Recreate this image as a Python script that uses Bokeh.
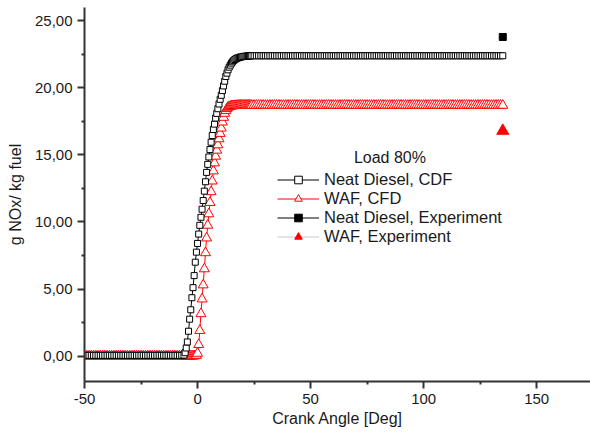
import numpy as np
from bokeh.plotting import figure
from bokeh.models import Range1d, FixedTicker, Legend, LegendItem, Label
from bokeh.embed import file_html
from bokeh.resources import INLINE

# ---------------- data ----------------
# crank-angle sampling of the CFD curves (coarse on the flat parts, fine in the rise)
angle_cfd = np.concatenate([np.arange(-50, -6, 1.0),
                            np.arange(-6, 24.5, 0.5),
                            np.arange(25, 136, 1.0)])

diesel_cfd = (
    # -50 .. -7
    [0.05, 0.05, 0.05, 0.05, 0.05, 0.05, 0.05, 0.05, 0.05, 0.05, 0.05,
     0.05, 0.05, 0.05, 0.05, 0.05, 0.05, 0.05, 0.05, 0.05, 0.05, 0.05,
     0.05, 0.05, 0.05, 0.05, 0.05, 0.05, 0.05, 0.05, 0.05, 0.05, 0.05,
     0.05, 0.05, 0.05, 0.05, 0.05, 0.05, 0.05, 0.05, 0.05, 0.05, 0.05]
    # -6 .. 24 (step 0.5)
    + [0.07, 0.25, 0.6, 1.05, 1.85, 2.75, 3.45, 4.35, 5.1, 6.0,
       7.0, 7.75, 8.4, 9.1, 9.75, 10.35, 10.95, 11.6, 12.3, 13.0,
       13.7, 14.3, 14.85, 15.4, 15.95, 16.45, 16.9, 17.3, 17.75, 18.1,
       18.45, 18.8, 19.15, 19.45, 19.8, 20.15, 20.5, 20.85, 21.1, 21.35,
       21.55, 21.7, 21.85, 21.95, 22.05, 22.12, 22.18, 22.22, 22.25, 22.28,
       22.3, 22.32, 22.34, 22.35, 22.36, 22.37, 22.38, 22.38, 22.39, 22.39,
       22.4]
    # 25 .. 135
    + [22.4, 22.4, 22.4, 22.4, 22.4, 22.4, 22.4, 22.4, 22.4, 22.4, 22.4,
       22.4, 22.4, 22.4, 22.4, 22.4, 22.4, 22.4, 22.4, 22.4, 22.4, 22.4,
       22.4, 22.4, 22.4, 22.4, 22.4, 22.4, 22.4, 22.4, 22.4, 22.4, 22.4,
       22.4, 22.4, 22.4, 22.4, 22.4, 22.4, 22.4, 22.4, 22.4, 22.4, 22.4,
       22.4, 22.4, 22.4, 22.4, 22.4, 22.4, 22.4, 22.4, 22.4, 22.4, 22.4,
       22.4, 22.4, 22.4, 22.4, 22.4, 22.4, 22.4, 22.4, 22.4, 22.4, 22.4,
       22.4, 22.4, 22.4, 22.4, 22.4, 22.4, 22.4, 22.4, 22.4, 22.4, 22.4,
       22.4, 22.4, 22.4, 22.4, 22.4, 22.4, 22.4, 22.4, 22.4, 22.4, 22.4,
       22.4, 22.4, 22.4, 22.4, 22.4, 22.4, 22.4, 22.4, 22.4, 22.4, 22.4,
       22.4, 22.4, 22.4, 22.4, 22.4, 22.4, 22.4, 22.4, 22.4, 22.4, 22.4,
       22.4]
)

waf_cfd = (
    # -50 .. -7
    [0.0, 0.0, 0.0, 0.0, 0.0, 0.0, 0.0, 0.0, 0.0, 0.0, 0.0,
     0.0, 0.0, 0.0, 0.0, 0.0, 0.0, 0.0, 0.0, 0.0, 0.0, 0.0,
     0.0, 0.0, 0.0, 0.0, 0.0, 0.0, 0.0, 0.0, 0.0, 0.0, 0.0,
     0.0, 0.0, 0.0, 0.0, 0.0, 0.0, 0.0, 0.0, 0.0, 0.0, 0.0]
    # -6 .. 24 (step 0.5)
    + [0.0, 0.0, 0.0, 0.0, 0.0, 0.0, 0.0, 0.0, 0.0, 0.01, 0.02, 0.05,
       0.2, 0.85, 1.9, 3.15, 4.25, 5.3, 6.5, 7.7, 8.8, 9.75,
       10.6, 11.45, 12.25, 13.05, 13.8, 14.4, 14.9, 15.35, 15.75, 16.2,
       16.6, 17.0, 17.45, 17.8, 18.1, 18.3, 18.45, 18.55, 18.6, 18.63,
       18.65, 18.66, 18.67, 18.68, 18.68, 18.69, 18.69, 18.7, 18.7, 18.7,
       18.7, 18.7, 18.7, 18.7, 18.7, 18.7, 18.7, 18.7, 18.7]
    # 25 .. 135
    + [18.7, 18.7, 18.7, 18.7, 18.7, 18.7, 18.7, 18.7, 18.7, 18.7, 18.7,
       18.7, 18.7, 18.7, 18.7, 18.7, 18.7, 18.7, 18.7, 18.7, 18.7, 18.7,
       18.7, 18.7, 18.7, 18.7, 18.7, 18.7, 18.7, 18.7, 18.7, 18.7, 18.7,
       18.7, 18.7, 18.7, 18.7, 18.7, 18.7, 18.7, 18.7, 18.7, 18.7, 18.7,
       18.7, 18.7, 18.7, 18.7, 18.7, 18.7, 18.7, 18.7, 18.7, 18.7, 18.7,
       18.7, 18.7, 18.7, 18.7, 18.7, 18.7, 18.7, 18.7, 18.7, 18.7, 18.7,
       18.7, 18.7, 18.7, 18.7, 18.7, 18.7, 18.7, 18.7, 18.7, 18.7, 18.7,
       18.7, 18.7, 18.7, 18.7, 18.7, 18.7, 18.7, 18.7, 18.7, 18.7, 18.7,
       18.7, 18.7, 18.7, 18.7, 18.7, 18.7, 18.7, 18.7, 18.7, 18.7, 18.7,
       18.7, 18.7, 18.7, 18.7, 18.7, 18.7, 18.7, 18.7, 18.7, 18.7, 18.7,
       18.7]
)

angle_exp = [135]
diesel_exp = [23.8]
waf_exp = [16.8]

x_ticks = [-50, 0, 50, 100, 150]
x_tick_labels = ["-50", "0", "50", "100", "150"]
x_minor = [-25, 25, 75, 125]
y_ticks = [0, 5, 10, 15, 20, 25]
y_minor = [2.5, 7.5, 12.5, 17.5, 22.5]
y_tick_labels = ["0,00", "5,00", "10,00", "15,00", "20,00", "25,00"]

labels = ["Neat Diesel, CDF", "WAF, CFD", "Neat Diesel, Experiment", "WAF, Experiment"]
legend_title = "Load 80%"
x_title = "Crank Angle [Deg]"
y_title = "g NOx/ kg fuel"

# ---------------- figure ----------------
FONT = "Liberation Sans"
p = figure(width=590, height=432, output_backend="svg", toolbar_location=None,
           x_range=Range1d(-50, 173.8), y_range=Range1d(-1.9, 26.0),
           min_border_left=84, min_border_right=0, min_border_top=7,
           min_border_bottom=51)
p.outline_line_color = None
p.xgrid.visible = False
p.ygrid.visible = False
p.background_fill_color = "white"

waf_line = p.line(angle_cfd, waf_cfd, line_color="#ff0000", line_width=1)
waf_pts = p.scatter(angle_cfd, waf_cfd, marker="triangle", size=10,
                    line_color="#ff0000", fill_color="white", line_width=1)
dsl_line = p.line(angle_cfd, diesel_cfd, line_color="black", line_width=1)
dsl_pts = p.scatter(angle_cfd, diesel_cfd, marker="square", size=6,
                    line_color="black", fill_color="white", line_width=1)

dexp_line = p.line(angle_exp, diesel_exp, line_color="black", line_width=1)
dexp_pts = p.scatter(angle_exp, diesel_exp, marker="square", size=7,
                     line_color="black", fill_color="black")
wexp_line = p.line(angle_exp, waf_exp, line_color="#c8c8c8", line_width=1)
wexp_pts = p.scatter(angle_exp, waf_exp, marker="triangle", size=12,
                     line_color="#ff0000", fill_color="#ff0000")

# axes
p.xaxis.ticker = FixedTicker(ticks=x_ticks, minor_ticks=x_minor)
p.yaxis.ticker = FixedTicker(ticks=y_ticks, minor_ticks=y_minor)
p.xaxis.major_label_overrides = {t: s for t, s in zip(x_ticks, x_tick_labels)}
p.yaxis.major_label_overrides = {t: s for t, s in zip(y_ticks, y_tick_labels)}
p.xaxis.axis_label = x_title
p.yaxis.axis_label = y_title
for ax in (p.xaxis[0], p.yaxis[0]):
    ax.axis_line_width = 2
    ax.axis_line_color = "#333333"
    ax.major_tick_line_width = 2
    ax.major_tick_line_color = "#333333"
    ax.major_tick_out = 7
    ax.major_tick_in = 0
    ax.minor_tick_line_width = 2
    ax.minor_tick_line_color = "#333333"
    ax.minor_tick_out = 3
    ax.minor_tick_in = 0
    ax.major_label_text_font = FONT
    ax.major_label_text_font_size = "15px"
    ax.major_label_text_color = "#1a1a1a"
    ax.major_label_standoff = 5
    ax.axis_label_text_font = FONT
    ax.axis_label_text_font_size = "16px"
    ax.axis_label_text_font_style = "normal"
    ax.axis_label_text_color = "#1a1a1a"
p.xaxis.axis_label_standoff = 3
p.yaxis.axis_label_standoff = 8

legend = Legend(items=[
    LegendItem(label=labels[0], renderers=[dsl_line, dsl_pts]),
    LegendItem(label=labels[1], renderers=[waf_line, waf_pts]),
    LegendItem(label=labels[2], renderers=[dexp_line, dexp_pts]),
    LegendItem(label=labels[3], renderers=[wexp_line, wexp_pts]),
], location=(193, 135), orientation="vertical", padding=0, margin=0, spacing=0,
   glyph_width=42, glyph_height=19, label_height=19, label_standoff=5,
   border_line_color=None, background_fill_alpha=0,
   label_text_font=FONT, label_text_font_size="16.5px", label_text_color="#1a1a1a")
p.add_layout(legend)

p.add_layout(Label(x=85.1, y=14.78, text=legend_title, text_align="center",
                   text_baseline="middle", text_font=FONT, text_font_size="16px",
                   text_color="#1a1a1a"))

open("out.html", "w").write(file_html(p, INLINE))
